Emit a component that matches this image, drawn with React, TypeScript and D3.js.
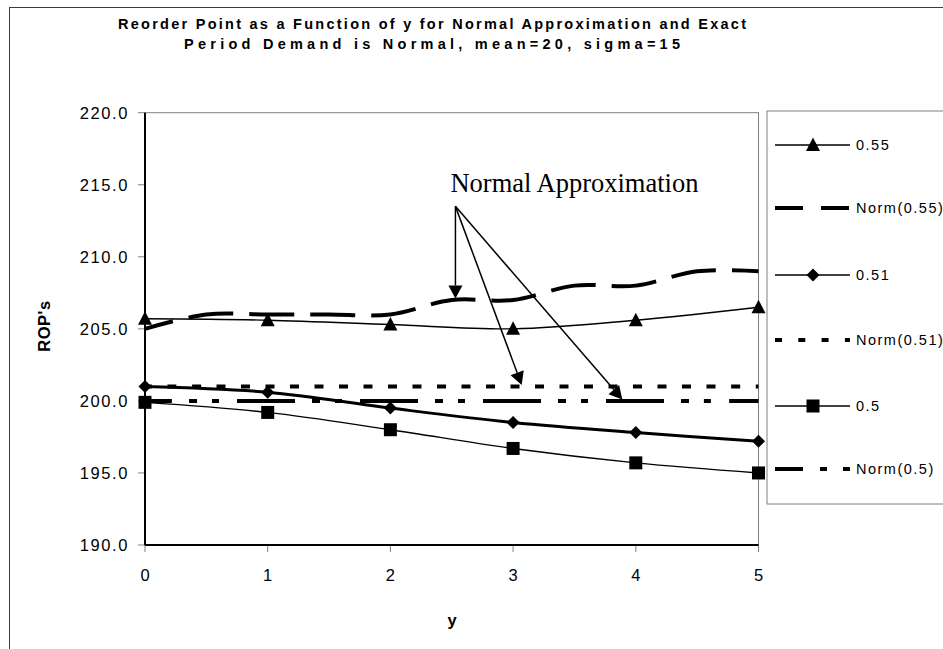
import React from "react";
import * as d3 from "d3";

// Periods of lead-time (y) and reorder points for each service level
const yLevels = [0, 1, 2, 3, 4, 5];
const rop055 = [205.7, 205.6, 205.3, 205.0, 205.6, 206.5];
const rop051 = [201.0, 200.6, 199.5, 198.5, 197.8, 197.2];
const rop050 = [199.9, 199.2, 198.0, 196.7, 195.7, 195.0];

// Normal approximation, evaluated on a half-period grid
const normLevels = [0, 0.5, 1, 1.5, 2, 2.5, 3, 3.5, 4, 4.5, 5];
const norm055 = [205, 206, 206, 206, 206, 207, 207, 208, 208, 209, 209];
const norm051 = [201, 201, 201, 201, 201, 201, 201, 201, 201, 201, 201];
const norm050 = [200, 200, 200, 200, 200, 200, 200, 200, 200, 200, 200];

const seriesNames = ["0.55", "Norm(0.55)", "0.51", "Norm(0.51)", "0.5", "Norm(0.5)"];
const yTicks = [190, 195, 200, 205, 210, 215, 220];
const xTicks = [0, 1, 2, 3, 4, 5];

const titleLines = [
  "Reorder Point as a Function of y for Normal Approximation and Exact",
  "Period Demand is Normal, mean=20, sigma=15",
];
const annotationText = "Normal Approximation";
// arrow origin and the points each arrow indicates, in (y, ROP) units
const annotationOrigin: [number, number] = [2.53, 213.5];
const annotationTargets: [number, number][] = [
  [2.53, 207],
  [3.07, 201],
  [3.89, 200],
];

type Marker = "triangle" | "diamond" | "square" | null;
interface Style {
  width: number;
  dash: string | null;
  offset: number;
  legendDash: string | null;
  marker: Marker;
}

const styles: Style[] = [
  { width: 1.4, dash: null, offset: 0, legendDash: null, marker: "triangle" },
  { width: 4, dash: "45 16", offset: 16, legendDash: "28 18", marker: null },
  { width: 3, dash: null, offset: 0, legendDash: null, marker: "diamond" },
  { width: 4, dash: "9 15.5", offset: 2, legendDash: "7 16.3", marker: null },
  { width: 1.4, dash: null, offset: 0, legendDash: null, marker: "square" },
  { width: 4, dash: "58 17 8 15 7 18", offset: 31, legendDash: "28 17 7 16 7 30", marker: null },
];

const W = 943;
const H = 649;
const plot = { left: 145, right: 758.5, top: 112.7, bottom: 545 };

function markerPath(m: Marker): string {
  if (m === "triangle") return "M0,-7.5L7,6L-7,6Z";
  if (m === "diamond") return "M0,-6.5L6.5,0L0,6.5L-6.5,0Z";
  if (m === "square") return "M-6.5,-6.5H6.5V6.5H-6.5Z";
  return "";
}

export default function App() {
  const x = d3.scaleLinear().domain([0, 5]).range([plot.left, plot.right]);
  const y = d3.scaleLinear().domain([190, 220]).range([plot.bottom, plot.top]);

  const seriesData: [number, number][][] = [
    yLevels.map((v, i) => [v, rop055[i]]),
    normLevels.map((v, i) => [v, norm055[i]]),
    yLevels.map((v, i) => [v, rop051[i]]),
    normLevels.map((v, i) => [v, norm051[i]]),
    yLevels.map((v, i) => [v, rop050[i]]),
    normLevels.map((v, i) => [v, norm050[i]]),
  ];

  const line = d3
    .line<[number, number]>()
    .x((d) => x(d[0]))
    .y((d) => y(d[1]))
    .curve(d3.curveCatmullRom.alpha(0));

  const font = "'Liberation Sans', Arial, sans-serif";
  const legendX0 = 775;
  const legendX1 = 850;
  const legendY = [145, 208, 275, 340, 406, 469];

  const [ox, oy] = [x(annotationOrigin[0]), y(annotationOrigin[1])];

  return (
    <svg
      width={W}
      height={H}
      style={{ position: "absolute", left: 0, top: 0, background: "#fff" }}
    >
      {/* chart frame */}
      <rect x={9.5} y={7.5} width={1000} height={700} fill="#fff" stroke="#3a3a3a" strokeWidth={1} />

      {/* title */}
      {titleLines.map((t, i) => (
        <text
          key={i}
          x={432}
          y={29 + i * 20}
          textAnchor="middle"
          fontFamily={font}
          fontWeight="bold"
          fontSize={14.5}
          textLength={i === 0 ? 628 : 496}
          lengthAdjust="spacing"
          fill="#000"
        >
          {t}
        </text>
      ))}

      {/* plot area border */}
      <rect
        x={plot.left}
        y={plot.top}
        width={plot.right - plot.left}
        height={plot.bottom - plot.top}
        fill="none"
        stroke="#808080"
        strokeWidth={1}
      />

      {/* y axis */}
      {yTicks.map((t) => (
        <g key={t}>
          <line x1={plot.left - 7} x2={plot.left} y1={y(t)} y2={y(t)} stroke="#808080" strokeWidth={1} />
          <text
            x={129}
            y={y(t)}
            dy="0.36em"
            textAnchor="end"
            fontFamily={font}
            fontSize={16.5}
            letterSpacing={1.6}
            fill="#000"
          >
            {d3.format(".1f")(t)}
          </text>
        </g>
      ))}
      <line x1={plot.left} x2={plot.left} y1={plot.top} y2={plot.bottom} stroke="#000" strokeWidth={2} />

      {/* x axis */}
      {xTicks.map((t) => (
        <g key={t}>
          <line x1={x(t)} x2={x(t)} y1={plot.bottom} y2={plot.bottom + 7} stroke="#808080" strokeWidth={1} />
          <text
            x={x(t)}
            y={575}
            dy="0.36em"
            textAnchor="middle"
            fontFamily={font}
            fontSize={16.5}
            fill="#000"
          >
            {t}
          </text>
        </g>
      ))}
      <line x1={plot.left} x2={plot.right} y1={plot.bottom} y2={plot.bottom} stroke="#000" strokeWidth={2} />

      {/* axis titles */}
      <text
        x={452}
        y={620}
        dy="0.36em"
        textAnchor="middle"
        fontFamily={font}
        fontWeight="bold"
        fontSize={16.5}
        fill="#000"
      >
        y
      </text>
      <text
        transform={`translate(44,326) rotate(-90)`}
        textAnchor="middle"
        dy="0.36em"
        fontFamily={font}
        fontWeight="bold"
        fontSize={16.5}
        letterSpacing={0.5}
        fill="#000"
      >
        ROP's
      </text>

      {/* series lines */}
      {seriesData.map((d, i) => (
        <path
          key={`l${i}`}
          d={line(d) ?? ""}
          fill="none"
          stroke="#000"
          strokeWidth={styles[i].width}
          strokeDasharray={styles[i].dash ?? undefined}
          strokeDashoffset={styles[i].offset}
          strokeLinejoin="round"
        />
      ))}

      {/* markers */}
      {seriesData.map((d, i) =>
        styles[i].marker
          ? d.map((p, j) => (
              <path
                key={`m${i}-${j}`}
                d={markerPath(styles[i].marker)}
                transform={`translate(${x(p[0])},${y(p[1])})`}
                fill="#000"
              />
            ))
          : null
      )}

      {/* annotation */}
      <text
        x={ox - 5}
        y={oy - 14}
        fontFamily="'Liberation Serif', 'Times New Roman', serif"
        fontSize={26.5}
        fill="#000"
      >
        {annotationText}
      </text>
      {annotationTargets.map((tg, i) => {
        const tx = x(tg[0]);
        const ty = y(tg[1]) - 1.5;
        const ang = Math.atan2(ty - oy, tx - ox);
        const len = 13;
        const hw = 7;
        const bx = tx - len * Math.cos(ang);
        const by = ty - len * Math.sin(ang);
        const px = -Math.sin(ang) * hw;
        const py = Math.cos(ang) * hw;
        return (
          <g key={`a${i}`}>
            <line x1={ox} y1={oy} x2={bx} y2={by} stroke="#000" strokeWidth={1.5} />
            <path d={`M${tx},${ty}L${bx + px},${by + py}L${bx - px},${by - py}Z`} fill="#000" />
          </g>
        );
      })}

      {/* legend */}
      <rect x={767} y={111} width={300} height={393} fill="#fff" stroke="#808080" strokeWidth={1} />
      {seriesNames.map((name, i) => (
        <g key={`lg${i}`}>
          <line
            x1={legendX0}
            x2={legendX1}
            y1={legendY[i]}
            y2={legendY[i]}
            stroke="#000"
            strokeWidth={styles[i].dash ? 4 : 1.6}
            strokeDasharray={styles[i].legendDash ?? undefined}
          />
          {styles[i].marker && (
            <path
              d={markerPath(styles[i].marker)}
              transform={`translate(${(legendX0 + legendX1) / 2 + 0.5},${legendY[i]})`}
              fill="#000"
            />
          )}
          <text
            x={legendX1 + 6}
            y={legendY[i]}
            dy="0.36em"
            fontFamily={font}
            fontSize={14.5}
            letterSpacing={1.5}
            fill="#000"
          >
            {name}
          </text>
        </g>
      ))}
    </svg>
  );
}
